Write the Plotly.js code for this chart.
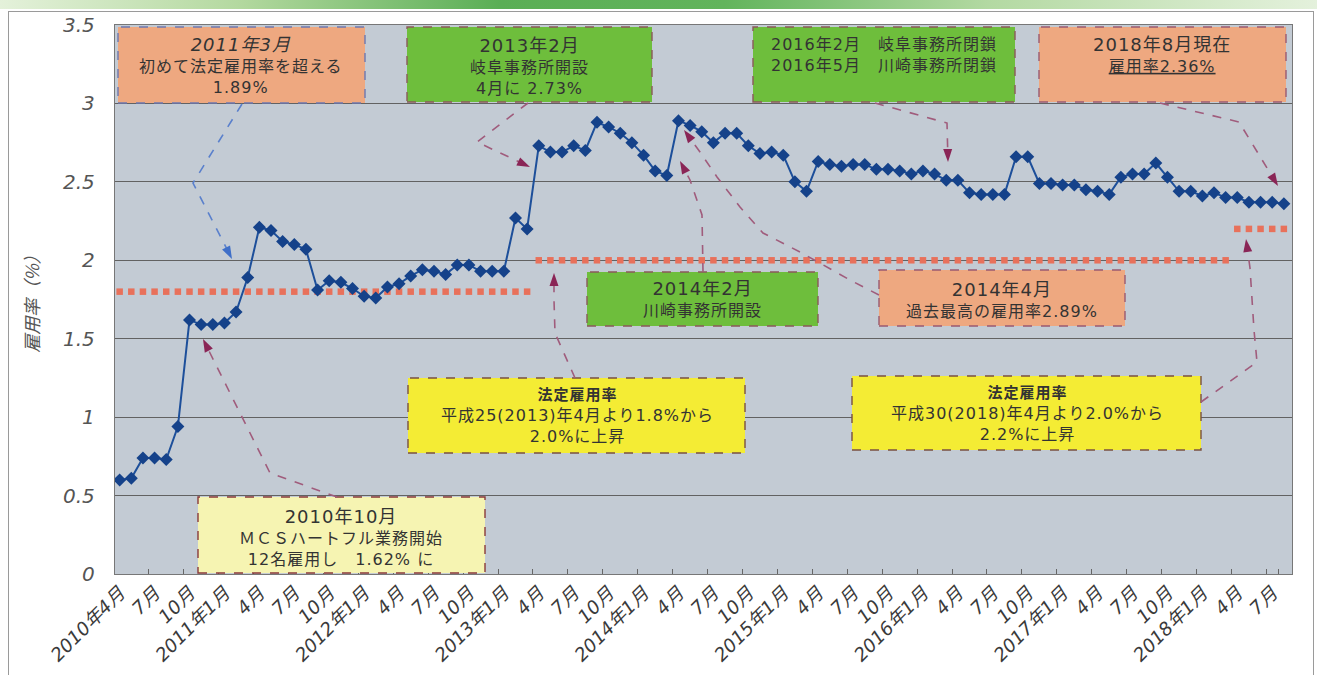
<!DOCTYPE html>
<html><head><meta charset="utf-8">
<script src="https://cdn.plot.ly/plotly-3.0.1.min.js"></script>
<style>
body{margin:0;background:#fff;}
#wrap{position:relative;width:1317px;height:675px;overflow:hidden;background:#fff;}
#band{position:absolute;left:0;top:0;width:1317px;height:9px;background:linear-gradient(90deg,#e4f1da 0%,#b4d9a0 18%,#5aae55 38%,#62b45c 55%,#b3d9a2 75%,#e4f1dc 100%);}
#frame{position:absolute;left:8px;top:11px;width:1304px;height:700px;border:1px solid #9a9a9a;}
#chart{position:absolute;left:0;top:0;width:1317px;height:675px;}
svg text.annotation-text{letter-spacing:1px;}
</style>
</head><body>
<div id="wrap"><div id="band"></div><div id="frame"></div><div id="chart"></div></div>
<script>
// ---------- data ----------
const startYear = 2010, startMonth = 4;
const rate = [
  0.60,0.61,0.74,0.74,0.73,0.94,1.62,1.59,1.59,
  1.60,1.67,1.89,2.21,2.19,2.12,2.10,2.07,1.81,1.87,1.86,1.82,
  1.77,1.76,1.83,1.85,1.90,1.94,1.93,1.91,1.97,1.97,1.93,1.93,
  1.93,2.27,2.20,2.73,2.69,2.69,2.73,2.70,2.88,2.85,2.81,2.75,
  2.67,2.57,2.54,2.89,2.86,2.82,2.75,2.81,2.81,2.73,2.68,2.69,
  2.67,2.50,2.44,2.63,2.61,2.60,2.61,2.61,2.58,2.58,2.57,2.55,
  2.57,2.55,2.51,2.51,2.43,2.42,2.42,2.42,2.66,2.66,2.49,2.49,
  2.48,2.48,2.45,2.44,2.42,2.53,2.55,2.55,2.62,2.53,2.44,2.44,
  2.41,2.43,2.40,2.40,2.37,2.37,2.37,2.36
];
const tickLabels = ['2010年4月','7月','10月','2011年1月','4月','7月','10月','2012年1月','4月','7月','10月',
  '2013年1月','4月','7月','10月','2014年1月','4月','7月','10月','2015年1月','4月','7月','10月',
  '2016年1月','4月','7月','10月','2017年1月','4月','7月','10月','2018年1月','4月','7月'];
const legalFrom = ['2010-04','2013-04','2018-04'];
const legalTo   = ['2013-03','2018-03','2018-08'];
const legalRate = [1.8, 2.0, 2.2];

// month category keys
const months = [];
for (let i = 0; i < rate.length; i++) {
  const t = startYear*12 + (startMonth-1) + i;
  const y = Math.floor(t/12), m = t%12 + 1;
  months.push(y + '-' + String(m).padStart(2,'0'));
}
const tickVals = tickLabels.map((_, k) => months[k*3]);

// ---------- traces ----------
const traces = [];
legalRate.forEach((r, k) => {
  const a = months.indexOf(legalFrom[k]), b = months.indexOf(legalTo[k]);
  const xs = months.slice(a, b+1);
  traces.push({type:'scatter', mode:'markers', x:xs, y:xs.map(() => r),
    marker:{symbol:'square', size:6.5, color:'#e8715b'}, hoverinfo:'skip', showlegend:false});
});
traces.push({type:'scatter', mode:'lines+markers', x:months, y:rate,
  line:{color:'#1d4f9a', width:2}, marker:{symbol:'diamond', size:10, color:'#15428a'},
  showlegend:false});

// ---------- layout helpers (pixel -> paper) ----------
const PL=115, PR=1292, PT=25, PB=574;
const fx = px => (px-PL)/(PR-PL), fy = py => (PB-py)/(PB-PT);

const PEACH='#eea880', GREEN='#6ebe3c', YEL='#f4ec34', LYEL='#f6f4b2';
const boxes = [
  {x0:118,y0:27,x1:365,y1:103, fill:PEACH, line:'#6d78b0'},
  {x0:407,y0:27,x1:652,y1:102, fill:GREEN, line:'#8a5a5a'},
  {x0:753,y0:27,x1:1015,y1:102, fill:GREEN, line:'#8a5a5a'},
  {x0:1039,y0:27,x1:1286,y1:102, fill:PEACH, line:'#9a5a70'},
  {x0:587,y0:272,x1:818,y1:326, fill:GREEN, line:'#8a5a5a'},
  {x0:879,y0:270,x1:1125,y1:326, fill:PEACH, line:'#9a5a70'},
  {x0:408,y0:378,x1:745,y1:453, fill:YEL, line:'#7a5040'},
  {x0:852,y0:376,x1:1201,y1:450, fill:YEL, line:'#7a5040'},
  {x0:198,y0:497,x1:485,y1:573, fill:LYEL, line:'#8a3a3a'}
];
const T = (s, sz) => '<span style="font-size:' + sz + 'px">' + s + '</span>';
const texts = [
  {x:241, y:65, t:'<i>' + T('2011年3月',18) + '</i><br>初めて法定雇用率を超える<br>1.89%'},
  {x:529, y:67, t:T('2013年2月',18) + '<br>岐阜事務所開設<br>4月に 2.73%'},
  {x:884, y:55, t:'2016年2月　岐阜事務所閉鎖<br>2016年5月　川崎事務所閉鎖'},
  {x:1162, y:55, t:T('2018年8月現在',18) + '<br><span style="text-decoration:underline">雇用率2.36%</span>'},
  {x:702, y:299, t:T('2014年2月',18) + '<br>川崎事務所開設'},
  {x:1002, y:300, t:T('2014年4月',18) + '<br>過去最高の雇用率2.89%'},
  {x:577, y:416, t:'<b>' + T('法定雇用率',15) + '</b><br>平成25(2013)年4月より1.8%から<br>2.0%に上昇'},
  {x:1027, y:414, t:'<b>' + T('法定雇用率',15) + '</b><br>平成30(2018)年4月より2.0%から<br>2.2%に上昇'},
  {x:341, y:537, t:T('2010年10月',18) + '<br>ＭＣＳハートフル業務開始<br>12名雇用し　1.62% に'}
];
const MAUVE='#a05c7c', HEAD='#8a2556', BLUE='#5a80cc';
const arrows = [
  {pts:[[242,104],[193,183],[232,259]], c:BLUE, h:'#3f6fc8'},
  {pts:[[528,103],[477,142],[530,167]], c:MAUVE, h:HEAD},
  {pts:[[875,103],[947,123],[948,162]], c:MAUVE, h:HEAD},
  {pts:[[1160,103],[1239,122],[1278,186]], c:MAUVE, h:HEAD},
  {pts:[[703,272],[702,215],[690,180],[680,161]], c:MAUVE, h:HEAD},
  {pts:[[879,295],[850,280],[800,252],[763,233],[740,207],[717,177],[700,152],[684,130]], c:MAUVE, h:HEAD},
  {pts:[[337,497],[270,473],[203,339]], c:MAUVE, h:HEAD},
  {pts:[[575,378],[555,333],[554,300],[554,273]], c:MAUVE, h:HEAD},
  {pts:[[1201,402],[1257,362],[1254,330],[1250,268],[1246,239]], c:MAUVE, h:HEAD}
];

const shapes = [];
const annotations = [];
boxes.forEach(b => shapes.push({type:'rect', xref:'paper', yref:'paper', layer:'above',
  x0:fx(b.x0), x1:fx(b.x1), y0:fy(b.y1), y1:fy(b.y0), fillcolor:b.fill,
  line:{color:b.line, width:1.4, dash:'dash'}}));
arrows.forEach(a => {
  const p = a.pts;
  const n = p.length;
  const tip = p[n-1], prev = p[n-2];
  let dx = tip[0]-prev[0], dy = tip[1]-prev[1];
  const L = Math.hypot(dx, dy); dx /= L; dy /= L;
  const hl = 13, hw = 4.5;
  const bx = tip[0]-dx*hl, by = tip[1]-dy*hl;
  const linePts = p.slice(0, n-1).concat([[bx+dx*2, by+dy*2]]);
  shapes.push({type:'path', xref:'paper', yref:'paper', layer:'above',
    path:'M' + linePts.map(q => fx(q[0]) + ',' + fy(q[1])).join('L'),
    line:{color:a.c, width:1.6, dash:'dash'}});
  const tri = [tip, [bx - dy*hw, by + dx*hw], [bx + dy*hw, by - dx*hw]];
  shapes.push({type:'path', xref:'paper', yref:'paper', layer:'above',
    path:'M' + tri.map(q => fx(q[0]) + ',' + fy(q[1])).join('L') + 'Z',
    fillcolor:a.h, line:{width:0}});
});
texts.forEach(t => annotations.push({xref:'paper', yref:'paper', x:fx(t.x), y:fy(t.y),
  xanchor:'center', yanchor:'middle', showarrow:false, align:'center', text:t.t,
  font:{family:'DejaVu Sans, Noto Sans CJK JP, sans-serif', size:16, color:'#333'}}));

const layout = {
  width:1317, height:675,
  margin:{l:PL, r:1317-PR, t:PT, b:675-PB},
  paper_bgcolor:'rgba(0,0,0,0)', plot_bgcolor:'#c3cbd4',
  showlegend:false,
  xaxis:{type:'category', range:[-0.4, 100.7], tickmode:'array', tickvals:tickVals, ticktext:tickLabels,
    tickson:'boundaries', ticks:'inside', ticklen:5, tickcolor:'#666', tickangle:-45,
    showgrid:false, showline:true, mirror:true, linecolor:'#777', linewidth:1.2,
    tickfont:{family:'DejaVu Sans, Noto Sans CJK JP, sans-serif', size:18.5, color:'#3a3a3a', style:'italic'}},
  yaxis:{range:[0,3.5], dtick:0.5, tick0:0, showgrid:true, gridcolor:'#626262', gridwidth:1.2,
    zeroline:false, showline:true, mirror:true, linecolor:'#777', linewidth:1.2, ticks:'',
    ticklabelstandoff:15,
    tickfont:{family:'DejaVu Sans, sans-serif', size:20, color:'#555', style:'italic'},
    title:{text:'雇用率（%）', standoff:18,
      font:{family:'Noto Sans CJK JP, sans-serif', size:18, color:'#555', style:'italic'}}},
  shapes:shapes, annotations:annotations
};
Plotly.newPlot('chart', traces, layout, {displayModeBar:false, staticPlot:true});
</script>
</body></html>
